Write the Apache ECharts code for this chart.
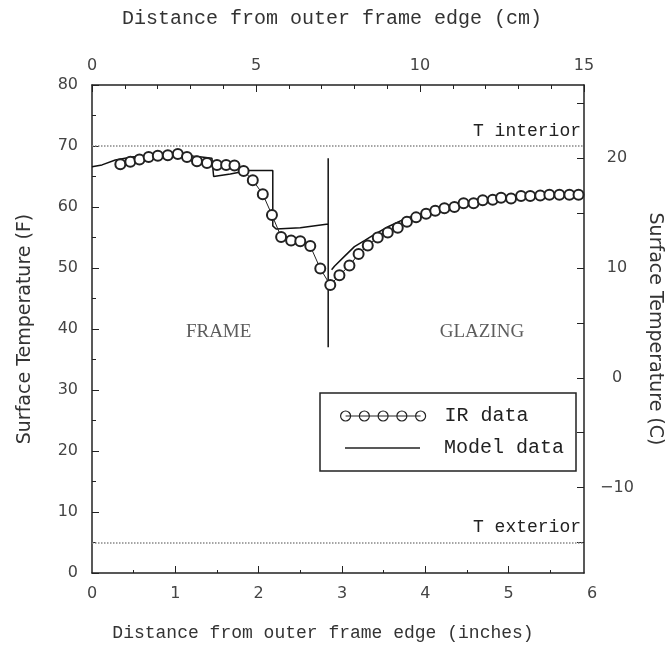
<!DOCTYPE html>
<html>
<head>
<meta charset="utf-8">
<script src="https://cdn.jsdelivr.net/npm/echarts@6/dist/echarts.min.js"></script>
<style>
html, body { margin: 0; padding: 0; background: #fff; }
#chart { width: 671px; height: 645px; }
</style>
</head>
<body>
<div id="chart"></div>
<script>
// IR thermography readings: distance (inches) / surface temp (F)
const irX = [0.34, 0.46, 0.57, 0.68, 0.79, 0.91, 1.03, 1.14, 1.26, 1.38, 1.50, 1.61, 1.71, 1.82, 1.93,
  2.05, 2.16, 2.27, 2.39, 2.50, 2.62, 2.74, 2.86, 2.97, 3.09, 3.20, 3.31, 3.43, 3.55, 3.67, 3.78,
  3.89, 4.01, 4.12, 4.23, 4.35, 4.46, 4.58, 4.69, 4.81, 4.91, 5.03, 5.15, 5.26, 5.38, 5.49, 5.61, 5.73, 5.84]
const irY = [67.0, 67.4, 67.8, 68.2, 68.4, 68.5, 68.7, 68.2, 67.5, 67.2, 66.9, 66.9, 66.8, 65.9, 64.4,
  62.1, 58.7, 55.1, 54.5, 54.4, 53.6, 49.9, 47.2, 48.8, 50.4, 52.3, 53.7, 55.0, 55.8, 56.6, 57.6,
  58.3, 58.9, 59.4, 59.8, 60.0, 60.6, 60.6, 61.1, 61.2, 61.5, 61.4, 61.8, 61.8, 61.9, 62.0, 62.0, 62.0, 62.0]

// model profile; nulls split frame / sash edge / glazing
const modelX = [0, 0.12, 0.28, 0.48, 0.68, 0.88, 1.04, 1.24, 1.44, 1.46, 1.66, 1.88, 2.17, 2.17, 2.21, 2.50, 2.835,
  null, 2.835, 2.835,
  null, 2.876, 2.91, 3.03, 3.15, 3.27, 3.39, 3.56, 3.76, 3.96, 4.32, 4.60, 5.00, 5.50, 5.906]
const modelY = [66.6, 66.9, 67.7, 68.2, 68.5, 68.8, 68.7, 68.3, 68.0, 65.0, 65.4, 66.0, 66.0, 56.9, 56.4, 56.6, 57.2,
  null, 68.0, 37.0,
  null, 49.7, 50.3, 51.9, 53.5, 54.5, 55.5, 56.8, 58.1, 58.9, 60.3, 60.8, 61.5, 62.0, 62.1]

const tempLevels = [70, 5]
const tempNames = ['T interior', 'T exterior']
const regionNames = ['FRAME', 'GLAZING']
const regionX = [1.52, 4.68]
const regionY = [39.5, 39.5]
const inchTicks = [1, 2, 3, 4, 5]
const celsiusTicks = [-15, -10, -5, 0, 5, 10, 15, 20, 25]
const celsiusLabels = [-10, 0, 10, 20]

const xMaxIn = 15 / 2.54
const toC = f => (f - 32) / 1.8

const sans = 'DejaVu Sans'
const mono = 'Liberation Mono'
const ink = '#222'

const irIcon = 'path://M5 5L80 5' + [5, 23.75, 42.5, 61.25, 80]
  .map(c => `M${c - 5} 5a5 5 0 1 0 10 0a5 5 0 1 0 -10 0`).join('')

const frameLine = { show: true, onZero: false, lineStyle: { color: ink, width: 1.5 } }
const tickLabel = { color: '#444', fontFamily: sans, fontSize: 16 }

const chart = echarts.init(document.getElementById('chart'))
chart.setOption({
  animation: false,
  backgroundColor: '#fff',
  grid: [
    { left: 92, top: 85, width: 492, height: 488, outerBoundsMode: 'none', containLabel: false },
    { left: 92, top: 85, width: 500, height: 488, outerBoundsMode: 'none', containLabel: false }
  ],
  xAxis: [
    {
      gridIndex: 0, type: 'value', position: 'bottom', min: 0, max: xMaxIn,
      axisLine: frameLine,
      axisTick: { show: false }, axisLabel: { show: false }, splitLine: { show: false }
    },
    {
      gridIndex: 0, type: 'value', position: 'top', min: 0, max: 15, interval: 5,
      axisLine: frameLine,
      axisTick: { inside: true, length: 7, lineStyle: { color: ink } },
      minorTick: { show: true, splitNumber: 5, length: 4, lineStyle: { color: ink } },
      axisLabel: { margin: 11, ...tickLabel },
      splitLine: { show: false }
    },
    {
      gridIndex: 1, type: 'value', position: 'bottom', min: 0, max: 6, interval: 1,
      axisLine: { show: false, onZero: false },
      axisTick: { inside: true, length: 7, customValues: inchTicks, lineStyle: { color: ink } },
      minorTick: { show: true, splitNumber: 2, length: 3, lineStyle: { color: ink } },
      axisLabel: { margin: 13, ...tickLabel },
      splitLine: { show: false }
    }
  ],
  yAxis: [
    {
      gridIndex: 0, type: 'value', position: 'left', min: 0, max: 80, interval: 10,
      axisLine: frameLine,
      axisTick: { inside: true, length: 7, lineStyle: { color: ink } },
      minorTick: { show: true, splitNumber: 2, length: 4, lineStyle: { color: ink } },
      axisLabel: { margin: 14, ...tickLabel },
      splitLine: { show: false },
      name: 'Surface Temperature (F)', nameLocation: 'middle', nameGap: 57,
      nameTextStyle: { color: '#333', fontFamily: sans, fontSize: 19 }
    },
    {
      gridIndex: 0, type: 'value', position: 'right', min: toC(0), max: toC(80),
      axisLine: frameLine,
      axisTick: { inside: true, length: 7, customValues: celsiusTicks, lineStyle: { color: ink } },
      axisLabel: {
        customValues: celsiusLabels, margin: 33, align: 'center', ...tickLabel,
        formatter: v => String(v).replace('-', '\u2212')
      },
      splitLine: { show: false },
      name: 'Surface Temperature (C)', nameLocation: 'middle', nameGap: 61, nameRotate: -90,
      nameTextStyle: { color: '#333', fontFamily: sans, fontSize: 19 }
    },
    {
      gridIndex: 1, type: 'value', min: 0, max: 80, show: false
    }
  ],
  legend: [
    {
      left: 340, top: 406, padding: 0, selectedMode: false,
      itemWidth: 85, itemHeight: 10,
      data: [{ name: 'IR data', icon: irIcon, itemStyle: { color: 'rgba(0,0,0,0)', borderColor: ink, borderWidth: 1.2 } }],
      textStyle: { color: ink, fontFamily: mono, fontSize: 20, padding: [0, 0, 0, 14] }
    },
    {
      left: 345, top: 438, padding: 0, selectedMode: false,
      itemWidth: 75, itemHeight: 1.5,
      data: [{ name: 'Model data', icon: 'rect', itemStyle: { color: ink } }],
      textStyle: { color: ink, fontFamily: mono, fontSize: 20, padding: [0, 0, 0, 19] }
    }
  ],
  graphic: [
    {
      type: 'rect', shape: { x: 320, y: 393, width: 256, height: 78 },
      style: { fill: 'none', stroke: ink, lineWidth: 1.5 }, z: 10
    },
    {
      type: 'text', x: 332, y: 9,
      style: { text: 'Distance from outer frame edge (cm)', fill: '#333', font: '20px "Liberation Mono"', textAlign: 'center' }
    },
    {
      type: 'text', x: 323, y: 624,
      style: { text: 'Distance from outer frame edge (inches)', fill: '#333', font: '18px "Liberation Mono"', textAlign: 'center' }
    }
  ],
  series: [
    {
      name: 'IR data', type: 'line', xAxisIndex: 0, yAxisIndex: 0, z: 3,
      data: irX.map((x, i) => [x, irY[i]]),
      symbol: 'emptyCircle', symbolSize: 10,
      lineStyle: { color: ink, width: 1 },
      itemStyle: { color: ink, borderWidth: 1.2 },
      markLine: {
        silent: true, symbol: 'none',
        lineStyle: { type: 'dotted', color: '#888', width: 1.5 },
        label: { position: 'insideEndTop', formatter: '{b}', color: ink, fontFamily: mono, fontSize: 18, distance: [3, 6] },
        data: tempLevels.map((v, i) => ({ yAxis: v, name: tempNames[i] }))
      }
    },
    {
      name: 'Model data', type: 'line', xAxisIndex: 0, yAxisIndex: 0, z: 2,
      data: modelX.map((x, i) => [x, modelY[i]]),
      symbol: 'none', connectNulls: false,
      lineStyle: { color: '#111', width: 1.5 },
      itemStyle: { color: ink }
    },
    {
      name: 'regions', type: 'scatter', xAxisIndex: 0, yAxisIndex: 0, silent: true,
      symbolSize: 0,
      data: regionX.map((x, i) => [x, regionY[i], regionNames[i]]),
      label: {
        show: true, position: 'inside', formatter: p => p.value[2],
        color: '#333', fontFamily: 'Liberation Serif', fontSize: 19
      }
    }
  ]
})
</script>
</body>
</html>
